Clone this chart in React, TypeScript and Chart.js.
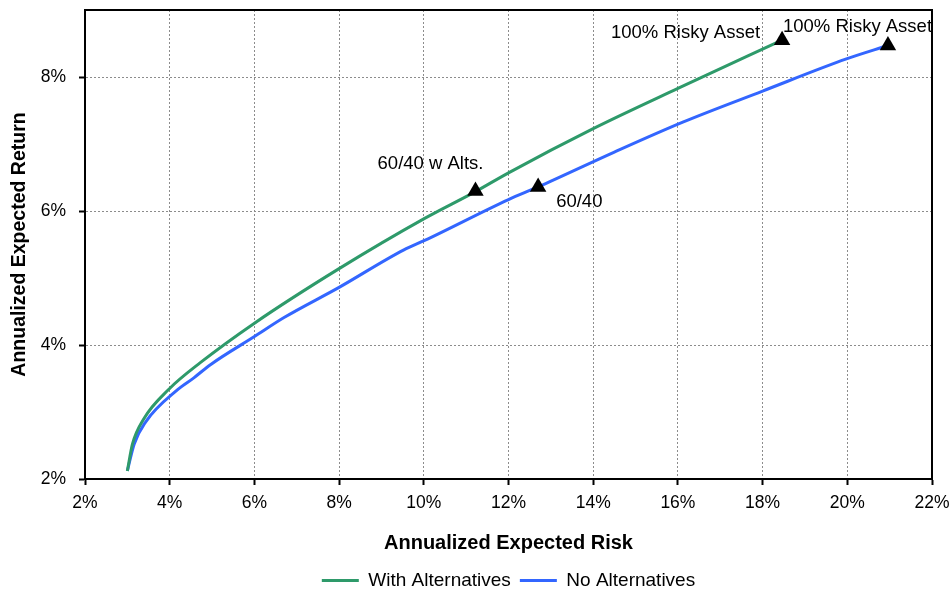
import React, { useEffect, useRef } from "react";
import { Chart, registerables } from "chart.js";

Chart.register(...registerables);

// With Alternatives frontier (risk %, return %)
const withAltRisk = [3.0, 3.12, 3.39, 3.98, 4.73, 6.01, 8.0, 10.02, 11.22, 12.0, 14.0, 16.0, 18.46];
const withAltReturn = [2.12, 2.52, 2.9, 3.34, 3.74, 4.33, 5.14, 5.89, 6.29, 6.57, 7.23, 7.83, 8.55];

// No Alternatives frontier
const noAltRisk = [3.0, 3.16, 3.43, 4.18, 4.57, 4.97, 6.01, 6.7, 8.0, 9.53, 10.02, 12.0, 12.7, 14.5, 16.13, 18.0, 19.98, 20.96];
const noAltReturn = [2.12, 2.52, 2.85, 3.33, 3.51, 3.71, 4.13, 4.41, 4.86, 5.42, 5.56, 6.17, 6.36, 6.88, 7.33, 7.79, 8.27, 8.47];

// Highlighted portfolios
const portfolioLabels = ["60/40 w Alts.", "60/40", "100% Risky Asset", "100% Risky Asset"];
const portfolioRisk = [11.22, 12.7, 18.46, 20.96];
const portfolioReturn = [6.3, 6.36, 8.55, 8.47];

const seriesNames = ["With Alternatives", "No Alternatives"];
const xTitle = "Annualized Expected Risk";
const yTitle = "Annualized Expected Return";

const GREEN = "#2E9A6A";
const BLUE = "#3366FF";
const FONT = "'Liberation Sans', Arial, sans-serif";

// label placement relative to marker: [align, dx, dy]
const labelPlacement: [CanvasTextAlign, number, number][] = [
  ["right", 8, -27],
  ["left", 18, 15],
  ["right", -22, -7],
  ["left", -105, -19],
];

const toPoints = (xs: number[], ys: number[]) => xs.map((x, i) => ({ x, y: ys[i] }));

const frame = {
  id: "frameAndLabels",
  afterDatasetsDraw(chart: any) {
    const { ctx, chartArea } = chart;
    ctx.save();
    ctx.strokeStyle = "#000";
    ctx.lineWidth = 2;
    ctx.strokeRect(chartArea.left, chartArea.top, chartArea.right - chartArea.left, chartArea.bottom - chartArea.top);
    const meta = chart.getDatasetMeta(0);
    ctx.fillStyle = "#000";
    ctx.font = `18.5px ${FONT}`;
    ctx.textBaseline = "middle";
    meta.data.forEach((pt: any, i: number) => {
      const [align, dx, dy] = labelPlacement[i];
      ctx.textAlign = align;
      ctx.fillText(portfolioLabels[i], pt.x + dx, pt.y + dy);
    });
    ctx.restore();
  },
};

export default function App() {
  const ref = useRef<HTMLCanvasElement>(null);
  useEffect(() => {
    if (!ref.current) return;
    const chart = new Chart(ref.current, {
      type: "line",
      data: {
        datasets: [
          {
            label: "Portfolios",
            data: toPoints(portfolioRisk, portfolioReturn),
            showLine: false,
            pointStyle: "triangle",
            pointRadius: 9.5,
            pointBackgroundColor: "#000",
            pointBorderColor: "#000",
            borderWidth: 0,
          },
          {
            label: seriesNames[0],
            data: toPoints(withAltRisk, withAltReturn),
            borderColor: GREEN,
            backgroundColor: GREEN,
            borderWidth: 3,
            pointRadius: 0,
            cubicInterpolationMode: "monotone",
          },
          {
            label: seriesNames[1],
            data: toPoints(noAltRisk, noAltReturn),
            borderColor: BLUE,
            backgroundColor: BLUE,
            borderWidth: 3,
            pointRadius: 0,
            cubicInterpolationMode: "monotone",
          },
        ],
      },
      options: {
        animation: false,
        responsive: false,
        devicePixelRatio: 1,
        layout: { padding: { left: 0, right: 18, top: 10, bottom: -6 } },
        font: { family: FONT },
        plugins: {
          tooltip: { enabled: false },
          legend: {
            position: "bottom",
            fullSize: false,
            labels: {
              color: "#000",
              font: { family: FONT, size: 19 },
              boxWidth: 37,
              boxHeight: 3,
              padding: 9,
              filter: (item: any) => item.datasetIndex !== 0,
              generateLabels: (ch: any) =>
                ch.data.datasets.map((ds: any, i: number) => ({
                  text: ds.label,
                  fillStyle: ds.borderColor,
                  strokeStyle: ds.borderColor,
                  lineWidth: 0,
                  hidden: false,
                  datasetIndex: i,
                  fontColor: "#000",
                })),
            },
          },
        },
        scales: {
          x: {
            type: "linear",
            min: 2,
            max: 22,
            afterFit: (s: any) => {
              s.height = 83;
              s.paddingLeft = 0;
              s.paddingRight = 0;
            },
            ticks: {
              stepSize: 2,
              callback: (v: any) => `${v}%`,
              color: "#000",
              font: { family: FONT, size: 17.5 },
              padding: 8,
              maxRotation: 0,
            },
            grid: {
              color: "#8c8c8c",
              lineWidth: 1,
              tickColor: "#000",
              tickLength: 6,
              tickWidth: 2,
            },
            border: { color: "#000", width: 2, dash: [2, 2] },
            title: {
              display: true,
              text: xTitle,
              color: "#000",
              font: { family: FONT, size: 20, weight: "bold" },
              padding: { top: 4, bottom: 7 },
            },
          },
          y: {
            type: "linear",
            min: 2,
            max: 9,
            afterFit: (s: any) => {
              s.width = 85;
              s.paddingTop = 0;
              s.paddingBottom = 0;
            },
            ticks: {
              stepSize: 2,
              includeBounds: false,
              callback: (v: any) => `${v}%`,
              color: "#000",
              font: { family: FONT, size: 17.5 },
              padding: 13,
            },
            grid: {
              color: "#8c8c8c",
              lineWidth: 1,
              tickColor: "#000",
              tickLength: 6,
              tickWidth: 2,
            },
            border: { color: "#000", width: 2, dash: [2, 2] },
            title: {
              display: true,
              text: yTitle,
              color: "#000",
              font: { family: FONT, size: 19.5, weight: "bold" },
              padding: { top: 8, bottom: 0 },
            },
          },
        },
      },
      plugins: [frame],
    } as any);
    return () => chart.destroy();
  }, []);
  return (
    <div style={{ position: "absolute", left: 0, top: 0, width: 950, height: 594 }}>
      <canvas ref={ref} width={950} height={594} style={{ width: 950, height: 594 }} />
    </div>
  );
}
